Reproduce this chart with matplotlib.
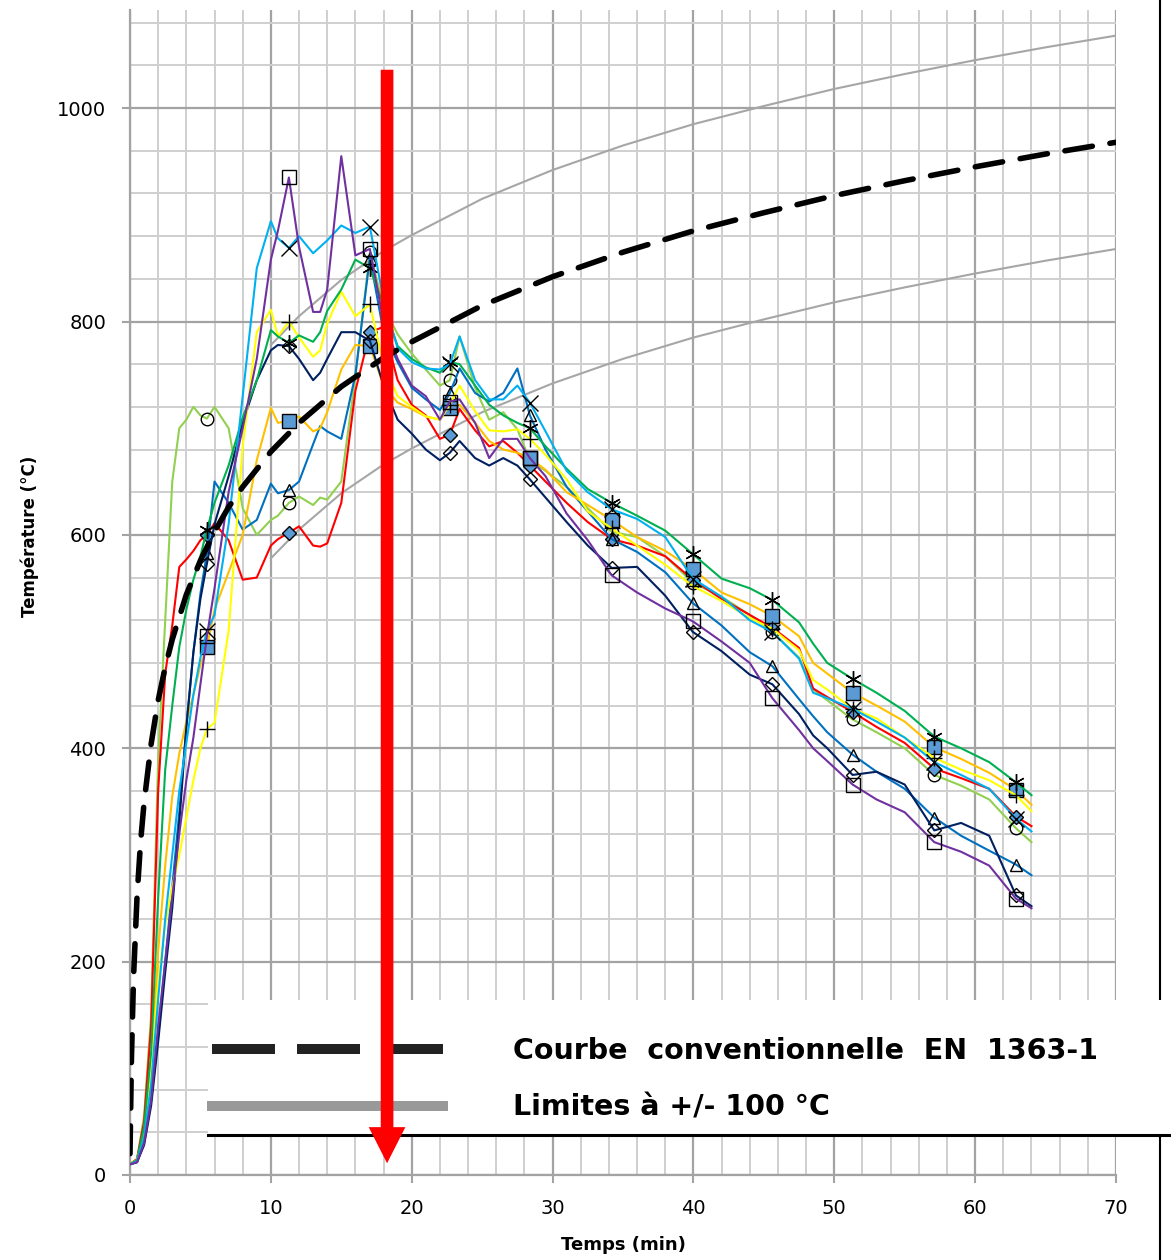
import matplotlib.pyplot as plt
from matplotlib.lines import Line2D
from matplotlib.patches import Rectangle, FancyArrowPatch
from matplotlib.ticker import MultipleLocator

# time base shared by the thermocouple curves (min)
time_min = [0, 0.5, 1, 1.5, 2, 2.5, 3, 3.5, 4, 4.5,
            5, 5.46, 6, 7, 8, 9, 10, 10.5, 11.28, 12,
            13, 13.5, 14, 15, 16, 17.03, 18, 19, 20, 21,
            22, 22.71, 23.4, 24.5, 25.5, 26.5, 27.5, 28.39, 29.5, 31,
            32.5, 34.2, 36, 38, 39.96, 42, 44, 45.6, 47.5, 48.5,
            49.5, 51.3, 53, 55, 57.1, 59, 61, 62.9, 64]

# markers sit every ~5.7 min on each curve
marker_times = [5.46, 11.28, 17.03, 22.71, 28.39, 34.2, 39.96, 45.6, 51.3, 57.1, 62.9]

tc_purple = [10, 12, 30, 70, 140, 200, 260, 320, 370, 410,
             460, 505, 550, 640, 700, 765, 858, 885, 935, 870,
             809, 809, 830, 955, 862, 868, 800, 765, 740, 730,
             708, 725, 727, 705, 672, 690, 690, 672, 655, 620,
             595, 562, 546, 531, 519, 500, 480, 447, 417, 400,
             388, 366, 352, 340, 312, 303, 290, 259, 250]
tc_sky = [10, 13, 35, 85, 165, 240, 300, 360, 405, 450,
          485, 510, 525, 610, 730, 850, 894, 878, 869, 880,
          864, 870, 876, 890, 883, 889, 820, 775, 762, 756,
          755, 760, 786, 745, 727, 727, 740, 724, 697, 660,
          640, 624, 615, 598, 559, 542, 520, 509, 484, 452,
          447, 437, 425, 410, 387, 375, 362, 334, 322]
tc_green = [10, 14, 45, 115, 260, 380, 440, 495, 530, 558,
            580, 605, 630, 665, 710, 745, 792, 786, 780, 787,
            781, 790, 810, 830, 858, 850, 815, 777, 765, 757,
            752, 762, 760, 740, 722, 712, 705, 700, 683, 662,
            643, 630, 618, 604, 582, 559, 550, 539, 518, 498,
            480, 465, 452, 435, 411, 400, 387, 368, 356]
tc_yellow = [10, 14, 40, 100, 180, 235, 270, 300, 335, 370,
             400, 418, 424, 510, 683, 790, 811, 786, 800, 785,
             767, 773, 798, 828, 805, 816, 760, 730, 720, 711,
             708, 722, 740, 716, 698, 697, 699, 690, 675, 652,
             622, 606, 590, 572, 552, 538, 522, 512, 492, 464,
             455, 437, 428, 410, 391, 380, 370, 356, 341]
tc_navy = [10, 12, 28, 65, 125, 190, 250, 330, 420, 490,
           540, 573, 610, 655, 705, 745, 773, 778, 777, 765,
           745, 752, 765, 790, 790, 782, 740, 708, 695, 680,
           670, 677, 688, 672, 665, 672, 665, 652, 635, 612,
           590, 569, 570, 543, 509, 491, 469, 460, 432, 412,
           400, 375, 378, 366, 323, 330, 318, 262, 252]
tc_orange = [10, 14, 40, 100, 210, 290, 355, 395, 425, 450,
             478, 495, 530, 565, 600, 670, 719, 705, 707, 711,
             697, 700, 715, 755, 778, 777, 740, 724, 718, 711,
             708, 719, 722, 705, 688, 680, 677, 672, 661, 640,
             628, 614, 598, 585, 568, 546, 535, 524, 505, 480,
             470, 452, 440, 425, 401, 390, 377, 361, 347]
tc_red = [10, 15, 50, 140, 360, 470, 515, 570, 577, 585,
          595, 600, 611, 595, 558, 560, 590, 596, 602, 608,
          590, 589, 592, 630, 735, 790, 795, 745, 722, 712,
          690, 694, 718, 698, 683, 688, 677, 665, 650, 630,
          612, 596, 590, 580, 558, 540, 525, 513, 494, 456,
          448, 434, 420, 405, 381, 372, 362, 336, 327]
tc_blue = [10, 12, 30, 70, 130, 200, 270, 340, 420, 490,
           545, 583, 650, 630, 605, 614, 648, 639, 642, 650,
           685, 702, 697, 690, 750, 860, 790, 762, 738, 727,
           717, 733, 756, 733, 725, 733, 756, 712, 680, 645,
           622, 596, 584, 565, 536, 515, 490, 477, 446, 430,
           415, 394, 378, 362, 335, 318, 304, 291, 281]
tc_lightgreen = [10, 15, 55, 150, 390, 520, 650, 700, 708, 720,
                 712, 709, 720, 700, 625, 600, 614, 618, 630, 636,
                 628, 635, 633, 650, 748, 865, 814, 788, 770, 755,
                 740, 745, 786, 738, 708, 715, 699, 670, 660, 645,
                 625, 603, 598, 580, 555, 542, 525, 509, 485, 455,
                 445, 427, 415, 400, 375, 365, 352, 325, 312]

# EN 1363-1 conventional curve and the +/-100 degC band
iso_time = [0, 0.1, 0.25, 0.5, 0.75, 1, 1.5, 2, 2.5, 3, 4, 5, 6, 7, 8,
            10, 12, 15, 18, 20, 25, 30, 35, 40, 45, 50, 55, 60, 65, 70]
iso_temp = [20, 108, 185, 261, 312, 349, 404, 445, 476, 502, 544, 576, 603, 626, 645,
            678, 705, 739, 766, 781, 815, 842, 865, 885, 902, 918, 932, 945, 957, 968]
band_time = [10, 12, 15, 18, 20, 25, 30, 35, 40, 45, 50, 55, 60, 65, 70]
band_upper = [778, 805, 839, 866, 881, 915, 942, 965, 985, 1002, 1018, 1032, 1045, 1057, 1068]
band_lower = [578, 605, 639, 666, 681, 715, 742, 765, 785, 802, 818, 832, 845, 857, 868]

arrow_time = 18.25
arrow_top = 1036
arrow_tip = 11

legend_labels = ['Courbe  conventionnelle  EN  1363-1', 'Limites à +/- 100 °C']

# colour / marker for each curve (Excel standard colours)
mk_fill = '#5b9bd5'
curves = [
    (tc_lightgreen, '#92d050', dict(marker='o', ms=9, mfc='none')),
    (tc_red, '#ff0000', dict(marker='D', ms=7, mfc=mk_fill)),
    (tc_blue, '#0070c0', dict(marker='^', ms=9, mfc='none')),
    (tc_orange, '#ffc000', dict(marker='s', ms=10, mfc=mk_fill)),
    (tc_navy, '#002060', dict(marker='D', ms=7, mfc='none')),
    (tc_yellow, '#ffff00', dict(marker='+', ms=12)),
    (tc_green, '#00b050', dict(marker=(6, 2, 0), ms=12)),
    (tc_sky, '#00b0f0', dict(marker='x', ms=11)),
    (tc_purple, '#7030a0', dict(marker='s', ms=10, mfc='none')),
]

fig = plt.figure(figsize=(11.71, 12.6), dpi=100)
ax = fig.add_axes([130 / 1171, 85 / 1260, 986 / 1171, 1165 / 1260])

ax.set_xlim(0, 70)
ax.set_ylim(0, 1092)
ax.xaxis.set_major_locator(MultipleLocator(10))
ax.xaxis.set_minor_locator(MultipleLocator(2))
ax.yaxis.set_major_locator(MultipleLocator(200))
ax.yaxis.set_minor_locator(MultipleLocator(40))
ax.set_axisbelow(True)
ax.grid(which='minor', color='#cfcfcf', lw=1.4)
ax.grid(which='major', color='#a3a3a3', lw=1.6)
ax.tick_params(which='minor', length=0)
ax.tick_params(which='major', length=6, width=1.5, color='#a3a3a3', labelsize=14, pad=11)
for s in ['top', 'right']:
    ax.spines[s].set_visible(False)
for s in ['left', 'bottom']:
    ax.spines[s].set_color('#a3a3a3')
    ax.spines[s].set_linewidth(1.6)

marker_idx = [time_min.index(t) for t in marker_times]
for vals, col, mk in curves:
    ax.plot(time_min, vals, color=col, lw=1.5, markevery=marker_idx,
            mec='black', mew=1.0, zorder=3, **mk)

ax.plot(band_time, band_upper, color='#a6a6a6', lw=1.5, zorder=2)
ax.plot(band_time, band_lower, color='#a6a6a6', lw=1.5, zorder=2)
ax.plot(iso_time, iso_temp, color='black', lw=4, dashes=(5, 3.2),
        dash_capstyle='round', zorder=5)

ax.set_xlabel('Temps (min)', fontsize=13, fontweight='bold')
ax.xaxis.set_label_coords(0.5, -0.052)
ax.set_ylabel('Température (°C)', fontsize=12, fontweight='bold')
ax.yaxis.set_label_coords(-0.092, 0.548)

# frame line at the right edge of the page
fig.add_artist(Line2D([1160 / 1171] * 2, [0, 1], transform=fig.transFigure,
                      color='black', lw=1.5, zorder=1))

# legend block drawn over the bottom of the plot
fig.add_artist(Rectangle((208 / 1171, 125 / 1260), 963 / 1171, 135 / 1260,
                         transform=fig.transFigure, facecolor='white',
                         edgecolor='none', zorder=3))
fig.add_artist(Line2D([208 / 1171, 1], [125 / 1260] * 2, transform=fig.transFigure,
                      color='black', lw=2.2, zorder=4))
h_iso = Line2D([], [], color='#222222', lw=7.2, dashes=(6.3, 2.2))
h_band = Line2D([], [], color='#999999', lw=7.2)
fig.legend([h_iso, h_band], legend_labels, loc='upper left',
           bbox_to_anchor=(212 / 1171, (1260 - 1037) / 1260), frameon=False,
           prop={'size': 20.5, 'weight': 'bold'}, handlelength=8.1,
           handletextpad=2.46, labelspacing=1.0, borderpad=0, borderaxespad=0)

# red arrow marking the time of interest
arrow = FancyArrowPatch((arrow_time, arrow_top), (arrow_time, arrow_tip),
                        transform=ax.transData,
                        arrowstyle='simple,head_length=26,head_width=26.4,tail_width=9.1',
                        mutation_scale=1, facecolor='red', edgecolor='none', lw=0,
                        shrinkA=0, shrinkB=0, zorder=6)
fig.add_artist(arrow)

fig.savefig('out.png', dpi=100)
